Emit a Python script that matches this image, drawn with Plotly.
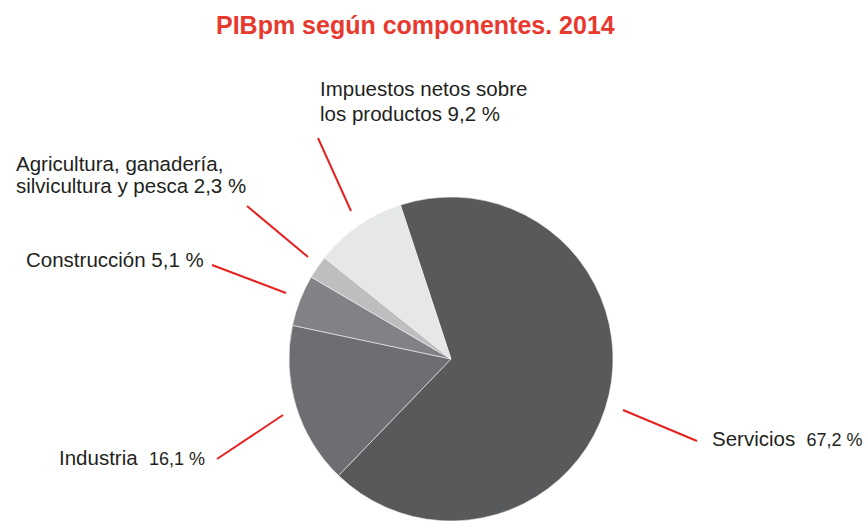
import plotly.graph_objects as go

W, H = 867, 521

categories = ["Servicios", "Industria", "Construcción",
              "Agricultura, ganadería, silvicultura y pesca",
              "Impuestos netos sobre los productos"]
values = [67.2, 16.1, 5.1, 2.3, 9.2]
value_labels = ["67,2 %", "16,1 %", "5,1 %", "2,3 %", "9,2 %"]
colors = ["#58595b", "#6d6e71", "#808285", "#bcbec0", "#e6e7e8"]

TEXT = "#231f20"
RED = "#e42320"
FONT = "Liberation Sans, Arial, sans-serif"


def px(x):
    return x / W


def py(y):
    return 1 - y / H


fig = go.Figure()
fig.add_trace(go.Pie(
    labels=categories, values=values, sort=False, direction="clockwise",
    rotation=-18.2, textinfo="none", hoverinfo="label+percent",
    marker=dict(colors=colors, line=dict(color="#f2f2f2", width=0.6)),
    domain=dict(x=[px(289), px(613)], y=[0, 324 / H]),
    showlegend=False,
))

ann = []


def label(x, y, text, anchor="left"):
    ann.append(dict(x=px(x), y=py(y), xref="paper", yref="paper", text=text,
                    showarrow=False, xanchor=anchor, yanchor="middle",
                    font=dict(family=FONT, size=20.5, color=TEXT)))


small = '<span style="font-size:18px">{}</span>'
label(710, 438, categories[0] + "  " + small.format(value_labels[0]))
label(57, 457, categories[1] + "  " + small.format(value_labels[1]))
label(24, 259, categories[2] + " " + value_labels[2])
label(14, 163, "Agricultura, ganadería,")
label(14, 186, "silvicultura y pesca " + value_labels[3])
label(318, 89, "Impuestos netos sobre")
label(318, 114, "los productos " + value_labels[4])

ann.append(dict(x=px(415), y=py(25), xref="paper", yref="paper",
                text="<b>PIBpm según componentes. 2014</b>", showarrow=False,
                xanchor="center", yanchor="middle",
                font=dict(family=FONT, size=25, color="#e8392f")))

lines = [
    (623, 410, 697, 441),
    (217, 459, 283, 415),
    (212, 265, 286, 293),
    (247, 206, 308, 257),
    (318, 138, 351, 211),
]
shapes = [dict(type="line", xref="paper", yref="paper",
               x0=px(a), y0=py(b), x1=px(c), y1=py(d),
               line=dict(color=RED, width=2)) for a, b, c, d in lines]

fig.update_layout(
    width=W, height=H, margin=dict(l=0, r=0, t=0, b=0),
    paper_bgcolor="white", plot_bgcolor="white",
    annotations=ann, shapes=shapes,
)

fig.write_html("out.html")
